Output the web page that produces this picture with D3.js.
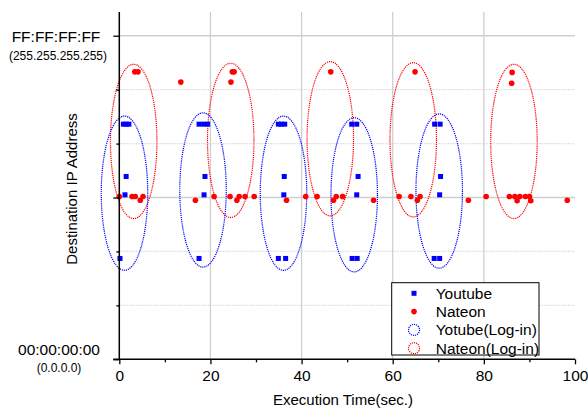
<!DOCTYPE html>
<html><head><meta charset="utf-8">
<script src="https://cdn.jsdelivr.net/npm/d3@7"></script>
<style>
html,body{margin:0;padding:0;background:#fff;}
text{font-family:"Liberation Sans",Arial,sans-serif;fill:#000;}
</style></head>
<body><svg id="chart" width="588" height="408"></svg>
<script>
// ---- data ----
const youtubeTime = [0.15,0.9,1.5,2.1,1.5,1.25, 17.5,17.5,18.5,19.4,18.8,18.6, 34.9,36.5,34.9,35.6,36.3,36.2,36.1, 51.1,52.2,51.0,52.1,52.4,52.1, 69.1,70.3,69.2,70.4,70.5,70.3];
const youtubeAddr = [1.87,4.36,4.36,4.36,3.39,3.05, 1.87,4.36,4.36,4.36,3.39,3.05, 1.87,1.87,4.36,4.36,4.36,3.39,3.05, 1.87,1.87,4.36,4.36,3.39,3.05, 1.87,1.87,4.36,4.36,3.39,3.05];
const nateonTime = [0.0,2.8,3.5,5.2,4.6,3.4,4.1,13.5, 16.7,20.8,24.3,25.8,26.3,27.6,29.6,24.8,25.2,24.5, 36.7,40.9,43.4,47.0,47.6,49.0,46.4, 55.8,61.4,64.0,65.4,66.0,64.9, 76.6,80.5,86.2,86.1,85.6,86.8,87.9,89.1,90.0,87.3,90.3,98.3];
const nateonAddr = [3.02,3.02,3.02,3.02,2.95,5.33,5.33,5.14, 2.95,3.02,3.02,2.95,3.02,3.02,3.02,5.33,5.33,5.14, 2.95,3.02,3.02,2.95,3.02,3.02,5.33, 2.95,3.02,3.02,2.95,3.02,5.33, 2.95,3.02,5.32,5.12,3.02,3.02,3.02,3.02,3.02,2.94,2.94,2.95];
const youtubeLoginTime = [1.14,18.37,36.03,51.55,70.2];
const youtubeLoginAddr = [3.08,3.14,3.08,3.05,3.12];
const nateonLoginTime = [3.16,24.45,46.3,64.5,86.6];
const nateonLoginAddr = [4.04,4.06,4.09,4.07,4.04];
const loginSpanTime = 5.1;   // half-width of a log-in window (sec.)
const loginSpanAddr = 1.43;  // half-height of a log-in window (address units)
const xTicks = [0,20,40,60,80,100];
const xMinorTicks = [10,30,50,70,90];
const yTicks = [0,1,2,3,4,5,6];
const yTopLabel = ["FF:FF:FF:FF","(255.255.255.255)"];
const yBottomLabel = ["00:00:00:00","(0.0.0.0)"];
const legendLabels = ["Youtube","Nateon","Yotube(Log-in)","Nateon(Log-in)"];
const xTitle = "Execution Time(sec.)";
const yTitle = "Destination IP Address";

// ---- layout ----
const svg = d3.select("#chart");
const x = d3.scaleLinear().domain([0,100]).range([119.3,575]);
const y = d3.scaleLinear().domain([0,6.44]).range([359.3,12]);
const BLUE="#0000ff", RED="#ff0000";

// grid
const g = svg.append("g");
g.selectAll(".vg").data([20,40,60,80]).enter().append("line")
  .attr("x1",d=>x(d)).attr("x2",d=>x(d)).attr("y1",y(6.44)).attr("y2",y(0))
  .attr("stroke","#cfcfcf").attr("stroke-width",1.3);
g.selectAll(".hg").data([1,2,3,4,5,6]).enter().append("line")
  .attr("x1",x(0)).attr("x2",x(100)).attr("y1",d=>y(d)).attr("y2",d=>y(d))
  .attr("stroke",d=>(d%3===0)?"#cfcfcf":"#d8d8d8")
  .attr("stroke-width",d=>(d%3===0)?1.3:1.2)
  .attr("stroke-dasharray",d=>(d%3===0)?null:"1.2,1.2");

// ellipses
function ell(times, addrs, color){
  svg.append("g").selectAll("ellipse").data(times).enter().append("ellipse")
    .attr("cx",d=>x(d)).attr("cy",(d,i)=>y(addrs[i]))
    .attr("rx",d=>x(d+loginSpanTime)-x(d))
    .attr("ry",(d,i)=>y(addrs[i])-y(addrs[i]+loginSpanAddr))
    .attr("fill","none").attr("stroke",color).attr("stroke-width",1.2)
    .attr("stroke-dasharray","1.2,0.9");
}
ell(nateonLoginTime,nateonLoginAddr,RED);
ell(youtubeLoginTime,youtubeLoginAddr,BLUE);

// points
svg.append("g").selectAll("rect").data(youtubeTime).enter().append("rect")
  .attr("x",d=>x(d)-2.5).attr("y",(d,i)=>y(youtubeAddr[i])-2.5)
  .attr("width",5).attr("height",5).attr("fill",BLUE);
svg.append("g").selectAll("circle").data(nateonTime).enter().append("circle")
  .attr("cx",d=>x(d)).attr("cy",(d,i)=>y(nateonAddr[i]))
  .attr("r",2.8).attr("fill",RED);

// axes
const xAxis = svg.append("g").attr("transform",`translate(0,${y(0)})`)
  .call(d3.axisBottom(x).tickValues(xTicks).tickSize(5).tickPadding(6).tickFormat(d3.format("d")));
xAxis.select(".domain").remove();
xAxis.selectAll("text").style("font-size","15.5px").attr("fill","#000");
xAxis.selectAll("line").attr("stroke","#000").attr("stroke-width",1.3);
svg.append("g").attr("transform",`translate(0,${y(0)})`)
  .call(d3.axisBottom(x).tickValues(xMinorTicks).tickSize(3).tickFormat(""))
  .call(a=>a.select(".domain").remove())
  .selectAll("line").attr("stroke","#000").attr("stroke-width",1.3);

const yAxis = svg.append("g").attr("transform",`translate(${x(0)},0)`)
  .call(d3.axisLeft(y).tickValues(yTicks).tickFormat(""));
yAxis.select(".domain").remove();
yAxis.selectAll(".tick line").attr("x2",d=>(d%3===0)?-6:-3).attr("stroke","#000").attr("stroke-width",1.3);

svg.append("line").attr("x1",x(0)-6).attr("x2",x(100)).attr("y1",y(0)).attr("y2",y(0))
  .attr("stroke","#000").attr("stroke-width",1.5);
svg.append("line").attr("x1",x(0)).attr("x2",x(0)).attr("y1",y(0)).attr("y2",y(6.44))
  .attr("stroke","#000").attr("stroke-width",1.5);

// y end labels
svg.append("text").attr("x",56).attr("y",y(6)+6).attr("text-anchor","middle")
  .style("font-size","15.5px").text(yTopLabel[0]);
svg.append("text").attr("x",58).attr("y",y(6)+24).attr("text-anchor","middle")
  .style("font-size","12px").text(yTopLabel[1]);
svg.append("text").attr("x",59).attr("y",y(0)-4.5).attr("text-anchor","middle")
  .style("font-size","15.5px").text(yBottomLabel[0]);
svg.append("text").attr("x",59).attr("y",y(0)+12.5).attr("text-anchor","middle")
  .style("font-size","12px").text(yBottomLabel[1]);

// titles
svg.append("text").attr("x",343).attr("y",405).attr("text-anchor","middle")
  .style("font-size","15px").text(xTitle);
svg.append("text").attr("transform","translate(77,189) rotate(-90)").attr("text-anchor","middle")
  .style("font-size","15px").text(yTitle);

// legend
const lg = svg.append("g");
lg.append("rect").attr("x",391.7).attr("y",282.7).attr("width",147.3).attr("height",72.3)
  .attr("fill","#fff").attr("stroke","#000").attr("stroke-width",1);
const ly = i => 293.3 + i*18.3;
lg.append("rect").attr("x",414-2.5).attr("y",ly(0)-2.5).attr("width",5).attr("height",5).attr("fill",BLUE);
lg.append("circle").attr("cx",414).attr("cy",ly(1)).attr("r",2.8).attr("fill",RED);
lg.append("circle").attr("cx",414).attr("cy",ly(2)).attr("r",5.5).attr("fill","none")
  .attr("stroke",BLUE).attr("stroke-width",1.2).attr("stroke-dasharray","1.2,0.9");
lg.append("circle").attr("cx",414).attr("cy",ly(3)).attr("r",5.5).attr("fill","none")
  .attr("stroke",RED).attr("stroke-width",1.2).attr("stroke-dasharray","1.2,0.9");
lg.selectAll("text").data(legendLabels).enter().append("text")
  .attr("x",435.7).attr("y",(d,i)=>ly(i)).attr("dy","0.36em")
  .style("font-size","15.5px").text(d=>d);
</script></body></html>
